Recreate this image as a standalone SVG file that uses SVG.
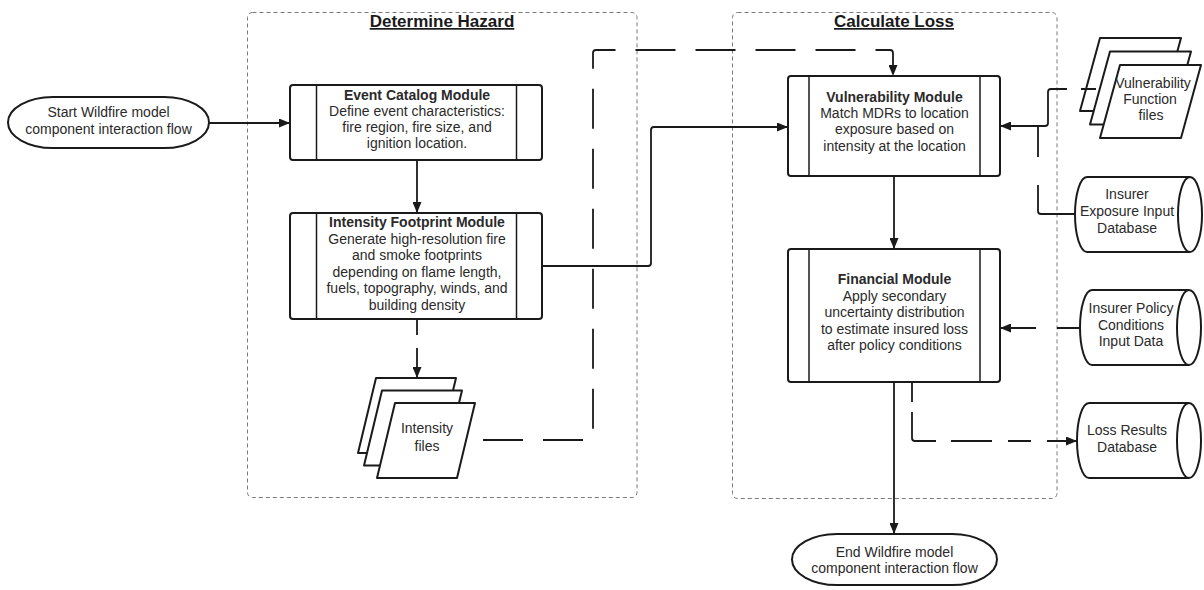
<svg xmlns="http://www.w3.org/2000/svg" width="1204" height="590" viewBox="0 0 1204 590">
  <style>
    text { font-family: "Liberation Sans", Arial, sans-serif; fill: #2a2a2a; }
    .t { font-size: 14px; text-anchor: middle; }
    .b { font-weight: bold; }
    .title { font-size: 17px; font-weight: bold; text-anchor: middle; text-decoration: underline; fill: #1a1a1a; }
    .group { fill: none; stroke: #7a7a7a; stroke-width: 1; stroke-dasharray: 4 3; }
    .box { fill: #fff; stroke: #1a1a1a; stroke-width: 2; }
    .bar { stroke: #1a1a1a; stroke-width: 1.5; }
    .term { fill: #fff; stroke: #1a1a1a; stroke-width: 2; }
    .sheet { fill: #fff; stroke: #1a1a1a; stroke-width: 2; stroke-linejoin: round; }
    .db { fill: #fff; stroke: #1a1a1a; stroke-width: 2; }
    .link { fill: none; stroke: #1a1a1a; stroke-width: 1.8; marker-end: url(#arrow); }
    .plain { fill: none; stroke: #1a1a1a; stroke-width: 1.8; }
    .dash { stroke-dasharray: 40 20; }
  </style>
  <defs>
    <marker id="arrow" markerUnits="userSpaceOnUse" markerWidth="11" markerHeight="9" refX="11" refY="4.5" orient="auto">
      <path d="M0,0 L11,4.5 L0,9 Z" fill="#1a1a1a"/>
    </marker>
  </defs>

  <rect width="1204" height="590" fill="#fff"/>

  <!-- swimlane containers -->
  <g id="lane-hazard">
    <rect class="group" x="247.5" y="12.5" width="389.5" height="485" rx="5"/>
    <text class="title" x="442" y="27">Determine Hazard</text>
  </g>
  <g id="lane-loss">
    <rect class="group" x="732.5" y="12.5" width="324.5" height="486" rx="5"/>
    <text class="title" x="894" y="27">Calculate Loss</text>
  </g>

  <!-- start terminator -->
  <g id="start">
    <rect class="term" x="8" y="97" width="201" height="51" rx="45" ry="25.5"/>
    <text class="t" x="108.5" y="117">Start Wildfire model</text>
    <text class="t" x="108.5" y="134">component interaction flow</text>
  </g>

  <!-- event catalog module -->
  <g id="event-catalog">
    <rect class="box" x="290" y="85" width="252" height="75" rx="3"/>
    <line class="bar" x1="316.5" y1="85" x2="316.5" y2="160"/>
    <line class="bar" x1="516.5" y1="85" x2="516.5" y2="160"/>
    <text class="t b" x="417" y="100">Event Catalog Module</text>
    <text class="t" x="417" y="116">Define event characteristics:</text>
    <text class="t" x="417" y="132">fire region, fire size, and</text>
    <text class="t" x="417" y="148">ignition location.</text>
  </g>

  <!-- intensity footprint module -->
  <g id="intensity-footprint">
    <rect class="box" x="290" y="213" width="252" height="106" rx="3"/>
    <line class="bar" x1="316.5" y1="213" x2="316.5" y2="319"/>
    <line class="bar" x1="516.5" y1="213" x2="516.5" y2="319"/>
    <text class="t b" x="417" y="227">Intensity Footprint Module</text>
    <text class="t" x="417" y="243.5">Generate high-resolution fire</text>
    <text class="t" x="417" y="260">and smoke footprints</text>
    <text class="t" x="417" y="276.5">depending on flame length,</text>
    <text class="t" x="417" y="293">fuels, topography, winds, and</text>
    <text class="t" x="417" y="309.5">building density</text>
  </g>

  <!-- intensity files (stacked documents) -->
  <g id="intensity-files">
    <path class="sheet" d="M376,378 H456 L438,453 H358 Z"/>
    <path class="sheet" d="M382,390.5 H462 L444,465.5 H364 Z"/>
    <path class="sheet" d="M395,403 H475 L457,478 H377 Z"/>
    <text class="t" x="427" y="433">Intensity</text>
    <text class="t" x="427" y="451">files</text>
  </g>

  <!-- vulnerability module -->
  <g id="vulnerability">
    <rect class="box" x="788" y="76" width="212" height="100" rx="3"/>
    <line class="bar" x1="809" y1="76" x2="809" y2="176"/>
    <line class="bar" x1="980" y1="76" x2="980" y2="176"/>
    <text class="t b" x="894.5" y="102">Vulnerability Module</text>
    <text class="t" x="894.5" y="118">Match MDRs to location</text>
    <text class="t" x="894.5" y="134">exposure based on</text>
    <text class="t" x="894.5" y="150.5">intensity at the location</text>
  </g>

  <!-- financial module -->
  <g id="financial">
    <rect class="box" x="788" y="249" width="212" height="133" rx="3"/>
    <line class="bar" x1="809" y1="249" x2="809" y2="382"/>
    <line class="bar" x1="980" y1="249" x2="980" y2="382"/>
    <text class="t b" x="894.5" y="284">Financial Module</text>
    <text class="t" x="894.5" y="300.5">Apply secondary</text>
    <text class="t" x="894.5" y="317">uncertainty distribution</text>
    <text class="t" x="894.5" y="333.5">to estimate insured loss</text>
    <text class="t" x="894.5" y="350">after policy conditions</text>
  </g>

  <!-- end terminator -->
  <g id="end">
    <rect class="term" x="792" y="534" width="205" height="51" rx="45" ry="25.5"/>
    <text class="t" x="894.5" y="557">End Wildfire model</text>
    <text class="t" x="894.5" y="573">component interaction flow</text>
  </g>

  <!-- vulnerability function files (stacked documents) -->
  <g id="vulnerability-files">
    <path class="sheet" d="M1100,38 H1181 L1161,111 H1080 Z"/>
    <path class="sheet" d="M1110,51.5 H1191 L1171,124.5 H1090 Z"/>
    <path class="sheet" d="M1120,65 H1201 L1181,138 H1100 Z"/>
    <text class="t" x="1153" y="88">Vulnerability</text>
    <text class="t" x="1150" y="104">Function</text>
    <text class="t" x="1151" y="120">files</text>
  </g>

  <!-- insurer exposure input database -->
  <g id="exposure-db">
    <path class="db" d="M1087,177 H1190 A12,37.5 0 0 1 1190,252 H1087 A12,37.5 0 0 1 1087,177 Z"/>
    <path class="db" d="M1190,177 A12,37.5 0 0 0 1190,252" fill="none"/>
    <text class="t" x="1127" y="199">Insurer</text>
    <text class="t" x="1127" y="216">Exposure Input</text>
    <text class="t" x="1127" y="232.5">Database</text>
  </g>

  <!-- insurer policy conditions input data -->
  <g id="policy-db">
    <path class="db" d="M1092,290 H1189 A12,37.5 0 0 1 1189,365 H1092 A12,37.5 0 0 1 1092,290 Z"/>
    <path class="db" d="M1189,290 A12,37.5 0 0 0 1189,365" fill="none"/>
    <text class="t" x="1131" y="313">Insurer Policy</text>
    <text class="t" x="1131" y="330">Conditions</text>
    <text class="t" x="1131" y="346">Input Data</text>
  </g>

  <!-- loss results database -->
  <g id="loss-db">
    <path class="db" d="M1089,403 H1189 A12,37.5 0 0 1 1189,478 H1089 A12,37.5 0 0 1 1089,403 Z"/>
    <path class="db" d="M1189,403 A12,37.5 0 0 0 1189,478" fill="none"/>
    <text class="t" x="1127" y="435">Loss Results</text>
    <text class="t" x="1127" y="452">Database</text>
  </g>

  <!-- connectors -->
  <g id="connectors">
    <path class="link" d="M209,123 H290"/>
    <path class="link" d="M417,160 V213"/>
    <path class="link" d="M417,319 V335 M417,348 V378"/>
    <path class="link" d="M542,266 H648 Q651,266 651,263 V130 Q651,127 654,127 H788"/>
    <path class="link dash" stroke-dashoffset="45" d="M468,440 H590 Q593,440 593,437 V53 Q593,50 596,50 H890 Q893,50 893,53 V76"/>
    <path class="link" d="M894,176 V249"/>
    <path class="link" d="M894,382 V534"/>
    <path class="link" d="M1096,89 H1081 M1067,89 H1051 Q1048,89 1048,92 V123 Q1048,126 1045,126 H1000"/>
    <path class="plain" d="M1075,214 H1041 Q1038,214 1038,211 V185 M1038,157 V126"/>
    <path class="link" d="M1080,328 H1057 M1036,328 H1000"/>
    <path class="link" d="M912,382 V402 M912,412 V438 Q912,441 915,441 H936 M951,441 H992 M1008,441 H1031 M1047,441 H1077"/>
  </g>
</svg>
